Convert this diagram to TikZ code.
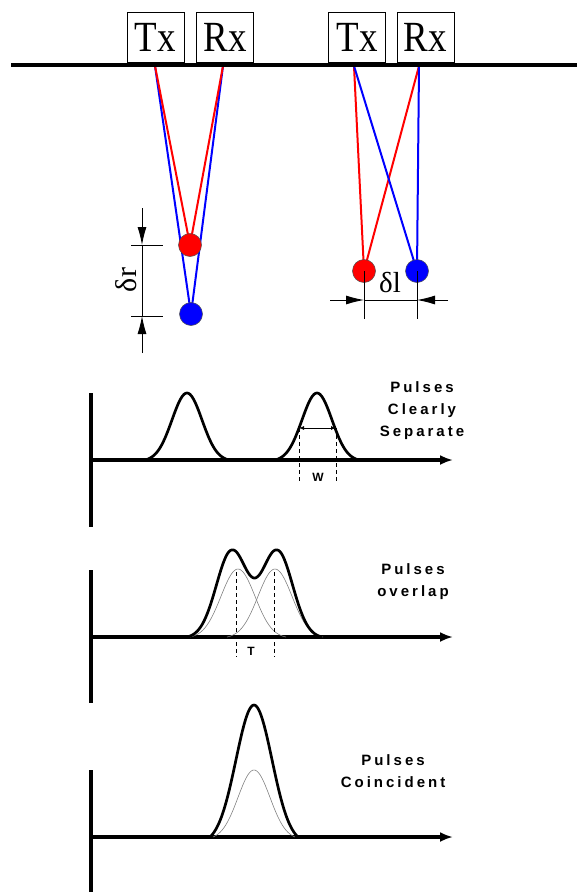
\documentclass[tikz,border=0pt]{standalone}
\usepackage{fontspec}
\setmainfont{Liberation Serif}
\newfontfamily\pulsefont[LetterSpace=20]{Liberation Sans}
\usetikzlibrary{arrows.meta,calc,backgrounds}

\begin{document}
\begin{tikzpicture}[
  x=1pt, y=-1pt,
  >=Latex,
  antenna/.style={draw, line width=0.9pt, minimum width=57pt, minimum height=50pt, inner sep=0pt, font=\fontsize{43}{43}\selectfont},
  ground/.style={line width=3.3pt},
  ray/.style={line width=2pt},
  target/.style={circle, draw=black!70, line width=0.5pt, minimum size=23pt, inner sep=0pt},
  dimline/.style={line width=0.9pt},
  dimarrow/.style={-{Latex[length=18pt,width=9pt]}, line width=0.9pt},
  axis/.style={line width=3.3pt},
  pulse/.style={line width=2.7pt, line join=round},
  part/.style={line width=0.6pt, gray},
  guide/.style={line width=0.7pt, dash pattern=on 4pt off 3pt},
  caption/.style={align=center, inner sep=0pt, font=\pulsefont\bfseries\fontsize{15}{22}\selectfont},
  tag/.style={inner sep=0pt, font=\pulsefont\bfseries\fontsize{12}{12}\selectfont},
  declare function={gp(\t,\s,\h)=max(0,(exp(-\t*\t/(2*\s*\s))-exp(-\h*\h/(2*\s*\s)))/(1-exp(-\h*\h/(2*\s*\s))));},
]
\useasboundingbox (0,0) rectangle (577,892);

% Ground and antennas
\draw[ground] (11,65) -- (577,65);
\node[antenna] (tx1) at (155.5,37) {\scalebox{0.86}[1]{Tx}};
\node[antenna] (rx1) at (225,37) {\scalebox{0.86}[1]{Rx}};
\node[antenna] (tx2) at (357,37) {\scalebox{0.86}[1]{Tx}};
\node[antenna] (rx2) at (425.5,37) {\scalebox{0.86}[1]{Rx}};
\coordinate (t1) at (155,66);
\coordinate (r1) at (223,66);
\coordinate (t2) at (354,66);
\coordinate (r2) at (419,66);

% Targets
\node[target, fill=red] (red1) at (190,245) {};
\node[target, fill=blue] (blue1) at (191,314) {};
\node[target, fill=red] (red2) at (364,271) {};
\node[target, fill=blue] (blue2) at (417,271) {};

% Ray paths
\begin{scope}[on background layer]
\draw[ray, blue] (t1) -- (blue1.center);
\draw[ray, blue] (r1) -- (blue1.center);
\draw[ray, red] (t1) -- (red1.center);
\draw[ray, red] (r1) -- (red1.center);
\draw[ray, red] (t2) -- (red2.center);
\draw[ray, red] (r2) -- (red2.center);
\draw[ray, blue] (t2) -- (blue2.center);
\draw[ray, blue] (r2) -- (blue2.center);
\end{scope}

% Range resolution
\coordinate (dra) at (142,208);
\coordinate (drb) at (142,245);
\coordinate (drc) at (142,316);
\coordinate (drd) at (142,353);
\draw[dimline] (131,245) -- (163,245);
\draw[dimline] (131,316) -- (163,316);
\draw[dimline] (drb) -- (drc);
\draw[dimarrow] (dra) -- (drb);
\draw[dimarrow] (drd) -- (drc);
\node[rotate=90, font=\fontsize{30}{30}\selectfont] (dr) at (126,280) {δr};

% Lateral resolution
\coordinate (dla) at (364,319);
\coordinate (dlb) at (417,319);
\coordinate (dlc) at (330,300);
\coordinate (dld) at (448,300);
\draw[dimline] (red2.center) -- (dla);
\draw[dimline] (blue2.center) -- (dlb);
\draw[dimline] (364,300) -- (417,300);
\draw[dimarrow] (dlc) -- (364,300);
\draw[dimarrow] (dld) -- (417,300);
\node[font=\fontsize{29}{29}\selectfont] (dl) at (390,283) {δl};

% Pulses clearly separate
\draw[axis] (91,393) -- (91,527);
\draw[axis, -{Latex[length=13pt,width=10pt]}] (91,460) -- (453,460);
\draw[pulse] plot[domain=-42:42, samples=61] ({187+\x},{460-67*gp(\x,15,42)});
\draw[pulse] plot[domain=-42:42, samples=61] ({317+\x},{460-67*gp(\x,15,42)});
\draw[guide] (299,428) -- (299,483);
\draw[guide] (336,428) -- (336,483);
\draw[line width=0.9pt, {Latex[length=5pt,width=4pt]}-{Latex[length=5pt,width=4pt]}] (299,428) -- (336,428);
\node[tag] (w) at (318,477) {W};
\node[caption, anchor=north] (c1) at (422,381) {Pulses\\Clearly\\Separate};

% Pulses overlap
\draw[axis] (91,570) -- (91,703);
\draw[axis, -{Latex[length=13pt,width=10pt]}] (91,637) -- (453,637);
\draw[part] plot[domain=-48:48, samples=61] ({238+\x},{637-68*gp(\x,17,48)});
\draw[part] plot[domain=-48:48, samples=61] ({275+\x},{637-68*gp(\x,17,48)});
\draw[pulse] plot[domain=187:322, samples=120] (\x,{637-87*(gp(\x-232,15.5,45)+gp(\x-277,15.5,45))});
\draw[guide] (236,572) -- (236,657);
\draw[guide] (274,572) -- (274,657);
\node[tag] (t) at (251,651) {T};
\node[caption, anchor=north] (c2) at (413,563) {Pulses\\overlap};

% Pulses coincident
\draw[axis] (91,770) -- (91,892);
\draw[axis, -{Latex[length=13pt,width=10pt]}] (91,837) -- (453,837);
\draw[part] plot[domain=-41:41, samples=61] ({254+\x},{837-67*gp(\x,16,41)});
\draw[pulse] plot[domain=-44:44, samples=61] ({254+\x},{837-132*gp(\x,18,44)});
\node[caption, anchor=north] (c3) at (393,754) {Pulses\\Coincident};

\end{tikzpicture}
\end{document}
